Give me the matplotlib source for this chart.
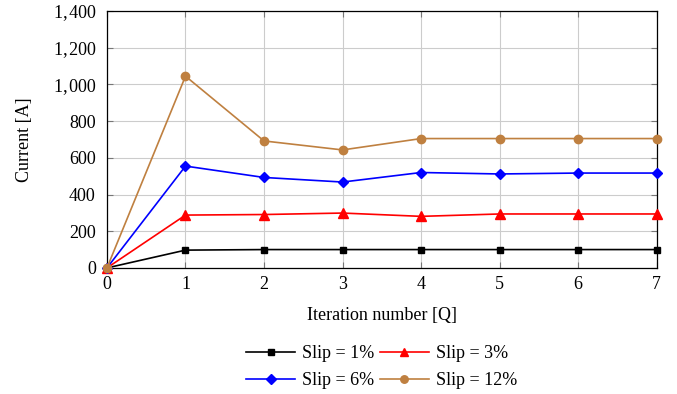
import matplotlib
matplotlib.use("Agg")
import matplotlib.pyplot as plt
from matplotlib.ticker import FuncFormatter
from matplotlib.lines import Line2D

plt.rcParams['font.family'] = ['Liberation Serif', 'DejaVu Serif']

iterations = [0, 1, 2, 3, 4, 5, 6, 7]
slip_1 = [0, 97, 100, 100, 100, 100, 100, 100]
slip_3 = [0, 288, 291, 299, 281, 294, 294, 294]
slip_6 = [0, 555, 493, 468, 520, 512, 517, 517]
slip_12 = [0, 1045, 692, 643, 705, 705, 705, 705]
labels = ['Slip = 1%', 'Slip = 3%', 'Slip = 6%', 'Slip = 12%']

FS = 13

fig = plt.figure(figsize=(6.77, 3.94), dpi=100)
ax = fig.add_axes([0.158, 0.320, 0.812, 0.652])

h1, = ax.plot(iterations, slip_1, color='black', marker='s', markersize=5, lw=1.2, clip_on=False, zorder=3)
h2, = ax.plot(iterations, slip_3, color='red', marker='^', markersize=7, lw=1.2, clip_on=False, zorder=3)
h3, = ax.plot(iterations, slip_6, color='blue', marker='D', markersize=5.5, lw=1.2, clip_on=False, zorder=3)
h4, = ax.plot(iterations, slip_12, color='#bf8040', marker='o', markersize=6, lw=1.2, clip_on=False, zorder=3)

ax.set_xlim(0, 7)
ax.set_ylim(0, 1400)
ax.set_xticks(iterations)
ax.set_yticks(range(0, 1401, 200))
ax.yaxis.set_major_formatter(FuncFormatter(lambda v, p: f"{int(v):,}".replace(',', ',\u200a')))
ax.grid(True, color='#cccccc', lw=0.8)
ax.set_axisbelow(True)
ax.tick_params(direction='in', top=True, right=True, labelsize=FS, length=4, color='#777777')
ax.tick_params(axis='y', pad=8)
ax.tick_params(axis='x', pad=6)
for s in ax.spines.values():
    s.set_linewidth(0.9)
ax.set_xlabel('Iteration number [Q]', fontsize=FS, labelpad=10)
ax.set_ylabel('Current [A]', fontsize=FS, labelpad=15)

# row-wise legend order: (1%, 3%) / (6%, 12%) -> column-major handles
handles = [h1, h3, h2, h4]
labs = [labels[0], labels[2], labels[1], labels[3]]
def proxy(h):
    return Line2D([], [], color=h.get_color(), marker=h.get_marker(),
                  markersize=h.get_markersize() * 0.9, lw=1.2)
leg = ax.legend([proxy(h) for h in handles], labs, loc='upper center',
                bbox_to_anchor=(0.5, -0.237), ncol=2, frameon=False,
                fontsize=FS, handlelength=2.7, columnspacing=0.3, handletextpad=0.4,
                labelspacing=0.55)

fig.savefig('out.png', dpi=100)
